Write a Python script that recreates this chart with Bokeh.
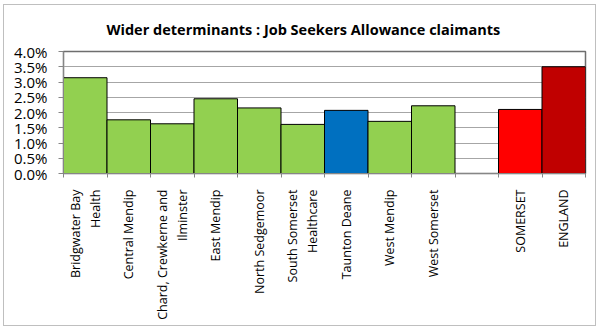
from bokeh.plotting import figure
from bokeh.models import (ColumnDataSource, FixedTicker, NumeralTickFormatter, LinearAxis,
                          Range1d)
from bokeh.embed import file_html
from bokeh.resources import INLINE

categories = ["Bridgwater Bay\nHealth", "Central Mendip", "Chard, Crewkerne and\nIlminster",
              "East Mendip", "North Sedgemoor", "South Somerset\nHealthcare", "Taunton Deane",
              "West Mendip", "West Somerset", "", "SOMERSET", "ENGLAND"]
values = [0.0314, 0.0176, 0.0163, 0.0245, 0.0215, 0.0161, 0.0207, 0.0171, 0.0222, 0.0, 0.0210, 0.0350]
colors = ["#92D050", "#92D050", "#92D050", "#92D050", "#92D050", "#92D050", "#0070C0",
          "#92D050", "#92D050", "#FFFFFF", "#FF0000", "#C00000"]
y_ticks = [0.0, 0.005, 0.01, 0.015, 0.02, 0.025, 0.03, 0.035, 0.04]
title_text = "Wider determinants : Job Seekers Allowance claimants"

n = len(categories)
xs = [i + 0.5 for i in range(n)]
keep = [i for i in range(n) if categories[i] != ""]
src = ColumnDataSource(dict(x=[xs[i] for i in keep], top=[values[i] for i in keep],
                            color=[colors[i] for i in keep]))

p = figure(width=593, height=322, output_backend="svg", toolbar_location=None,
           x_range=Range1d(0, n), y_range=Range1d(0, 0.04),
           min_border_left=59, min_border_right=12, min_border_top=46, min_border_bottom=154,
           x_axis_location=None, title=title_text)
p.margin = (4, 0, 0, 3)
p.styles = {"border": "1px solid #BFBFBF"}
p.background_fill_color = "white"
p.border_fill_color = "white"
p.outline_line_color = "#6E6E6E"
p.outline_line_width = 1.5

p.title.align = "left"
p.title.offset = 43
p.title.text_font = "Open Sans"
p.title.text_font_style = "bold"
p.title.text_font_size = "14.5px"
p.title.text_color = "black"
p.title.vertical_align = "top"
p.title.standoff = 21

p.vbar(x="x", top="top", width=1.0, fill_color="color", line_color="black", line_width=1,
       source=src)

# y axis
ya = p.yaxis[0]
ya.ticker = FixedTicker(ticks=y_ticks)
ya.formatter = NumeralTickFormatter(format="0.0%")
ya.major_label_text_font = "Open Sans"
ya.major_label_text_font_size = "15px"
ya.major_label_text_color = "black"
ya.axis_line_color = "#868686"
ya.major_tick_line_color = "#868686"
ya.major_tick_in = 0
ya.major_tick_out = 5
ya.minor_tick_line_color = None
ya.major_label_standoff = 11
p.ygrid.ticker = FixedTicker(ticks=y_ticks)
p.ygrid.grid_line_color = "#A6A6A6"
p.xgrid.grid_line_color = None

# x axis: labels at category centres, tick marks at category boundaries
xa = LinearAxis(ticker=FixedTicker(ticks=[xs[i] for i in keep],
                                   minor_ticks=list(range(n + 1))))
xa.major_label_overrides = {xs[i]: categories[i] for i in keep}
xa.major_label_orientation = 1.5707963267948966
xa.major_label_text_font = "Open Sans"
xa.major_label_text_font_size = "12.5px"
xa.major_label_text_color = "black"
xa.axis_line_color = "#868686"
xa.major_tick_line_color = None
xa.minor_tick_line_color = "#868686"
xa.minor_tick_in = 0
xa.minor_tick_out = 4
xa.major_label_standoff = 10
p.add_layout(xa, "below")

open("out.html", "w").write(file_html(p, INLINE))
